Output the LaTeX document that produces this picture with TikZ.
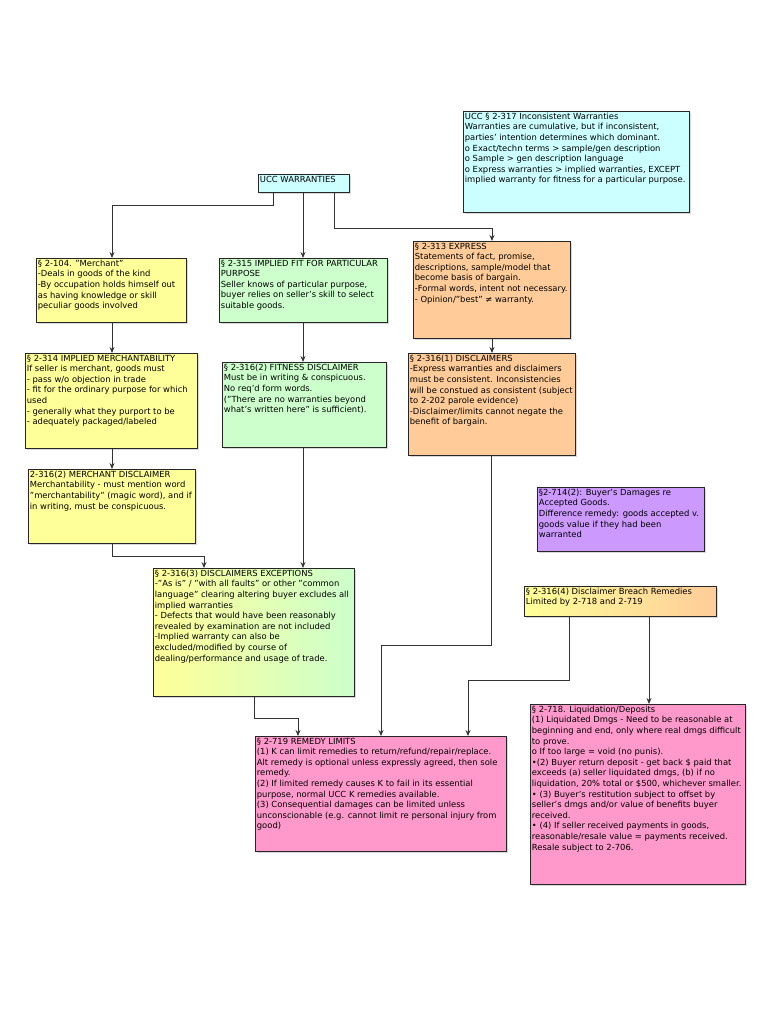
\documentclass[tikz,border=0pt]{standalone}
\usepackage{fontspec}
\setmainfont{DejaVu Sans}
\usetikzlibrary{arrows.meta,shadows}
\definecolor{cy}{RGB}{204,255,255}
\definecolor{ye}{RGB}{255,255,153}
\definecolor{gr}{RGB}{204,255,204}
\definecolor{orn}{RGB}{255,204,153}
\definecolor{pu}{RGB}{204,153,255}
\definecolor{pk}{RGB}{255,153,204}
\newcommand\bxt[3]{\parbox[c][\dimexpr#2pt-3pt][t]{\dimexpr#1pt-3pt}{\raggedright\fontsize{8.4}{10.6}\selectfont #3}}
\tikzset{box/.style={draw=black!85,line width=0.8pt,anchor=north west,inner sep=1.5pt,drop shadow={shadow xshift=1.2pt,shadow yshift=-1.2pt,opacity=0.3}},
con/.style={draw=black!80,line width=0.8pt,-{Stealth[length=6pt,width=5pt]}}}
\begin{document}
\begin{tikzpicture}[x=1pt,y=-1pt]
\useasboundingbox (0,0) rectangle (768,1024);
\node[box,fill=cy] (ucc) at (258,174) {\bxt{91}{18}{UCC WARRANTIES}};
\node[box,fill=cy] (s317) at (463,111) {\bxt{226}{101}{UCC § 2-317 Inconsistent Warranties\\Warranties are cumulative, but if inconsistent, parties' intention determines which dominant.\\o Exact/techn terms > sample/gen description\\o Sample > gen description language\\o Express warranties > implied warranties, EXCEPT implied warranty for fitness for a particular purpose.}};
\node[box,fill=ye] (s104) at (36,258) {\bxt{150}{64}{§ 2-104. "Merchant"\\-Deals in goods of the kind\\-By occupation holds himself out as having knowledge or skill peculiar goods involved}};
\node[box,fill=gr] (s315) at (219,258) {\bxt{168}{64}{§ 2-315 IMPLIED FIT FOR PARTICULAR PURPOSE\\Seller knows of particular purpose, buyer relies on seller's skill to select suitable goods.}};
\node[box,fill=orn] (s313) at (413,241) {\bxt{157}{97}{§ 2-313 EXPRESS\\Statements of fact, promise, descriptions, sample/model that become basis of bargain.\\-Formal words, intent not necessary.\\- Opinion/"best" ≠ warranty.}};
\node[box,fill=ye] (s314) at (25,353) {\bxt{172}{95}{§ 2-314 IMPLIED MERCHANTABILITY\\If seller is merchant, goods must\\- pass w/o objection in trade\\- fit for the ordinary purpose for which used\\- generally what they purport to be\\- adequately packaged/labeled}};
\node[box,fill=gr] (s3162) at (222,362) {\bxt{164}{85}{§ 2-316(2) FITNESS DISCLAIMER\\Must be in writing \& conspicuous.\\No req'd form words.\\("There are no warranties beyond what's written here" is sufficient).}};
\node[box,fill=orn] (s3161) at (408,353) {\bxt{167}{102}{§ 2-316(1) DISCLAIMERS\\-Express warranties and disclaimers must be consistent. Inconsistencies will be constued as consistent (subject to 2-202 parole evidence)\\-Disclaimer/limits cannot negate the benefit of bargain.}};
\node[box,fill=ye] (md) at (28,469) {\bxt{167}{74}{2-316(2) MERCHANT DISCLAIMER\\Merchantability - must mention word "merchantability" (magic word), and if in writing, must be conspicuous.}};
\node[box,left color=ye,right color=gr] (s3163) at (153,568) {\bxt{201}{128}{§ 2-316(3) DISCLAIMERS EXCEPTIONS\\-"As is" / "with all faults" or other "common language" clearing altering buyer excludes all implied warranties\\- Defects that would have been reasonably revealed by examination are not included\\-Implied warranty can also be excluded/modified by course of dealing/performance and usage of trade.}};
\node[box,fill=pu] (s714) at (537,487) {\bxt{167}{64}{§2-714(2): Buyer's Damages re Accepted Goods.\\Difference remedy: goods accepted v. goods value if they had been warranted}};
\node[box,left color=ye,right color=orn] (s3164) at (524,586) {\bxt{192}{30}{§ 2-316(4) Disclaimer Breach Remedies Limited by 2-718 and 2-719}};
\node[box,fill=pk] (s719) at (255,736) {\bxt{251}{115}{§ 2-719 REMEDY LIMITS\\(1) K can limit remedies to return/refund/repair/replace. Alt remedy is optional unless expressly agreed, then sole remedy.\\(2) If limited remedy causes K to fail in its essential purpose, normal UCC K remedies available.\\(3) Consequential damages can be limited unless unconscionable (e.g. cannot limit re personal injury from good)}};
\node[box,fill=pk] (s718) at (530,704) {\bxt{215}{180}{§ 2-718. Liquidation/Deposits\\(1) Liquidated Dmgs - Need to be reasonable at beginning and end, only where real dmgs difficult to prove.\\o If too large = void (no punis).\\•(2) Buyer return deposit - get back \$ paid that exceeds (a) seller liquidated dmgs, (b) if no liquidation, 20\% total or \$500, whichever smaller.\\• (3) Buyer's restitution subject to offset by seller's dmgs and/or value of benefits buyer received.\\• (4) If seller received payments in goods, reasonable/resale value = payments received. Resale subject to 2-706.}};
\draw[con] (ucc.south -| 273,0) -- (273,205) -- (112,205) -- (s104.north -| 112,0);
\draw[con] (ucc.south -| 303,0) -- (s315.north -| 303,0);
\draw[con] (ucc.south -| 334,0) -- (334,228) -- (492,228) -- (s313.north -| 492,0);
\draw[con] (s104.south -| 112,0) -- (s314.north -| 112,0);
\draw[con] (s315.south -| 303,0) -- (s3162.north -| 303,0);
\draw[con] (s313.south -| 492,0) -- (s3161.north -| 492,0);
\draw[con] (s314.south -| 112,0) -- (md.north -| 112,0);
\draw[con] (md.south -| 112,0) -- (112,556) -- (204,556) -- (s3163.north -| 204,0);
\draw[con] (s3162.south -| 303,0) -- (s3163.north -| 303,0);
\draw[con] (s3163.south -| 254,0) -- (254,718) -- (298,718) -- (s719.north -| 298,0);
\draw[con] (s3161.south -| 491,0) -- (491,645) -- (381,645) -- (s719.north -| 381,0);
\draw[con] (s3164.south -| 569,0) -- (569,680) -- (468,680) -- (s719.north -| 468,0);
\draw[con] (s3164.south -| 649,0) -- (s718.north -| 649,0);
\end{tikzpicture}
\end{document}
